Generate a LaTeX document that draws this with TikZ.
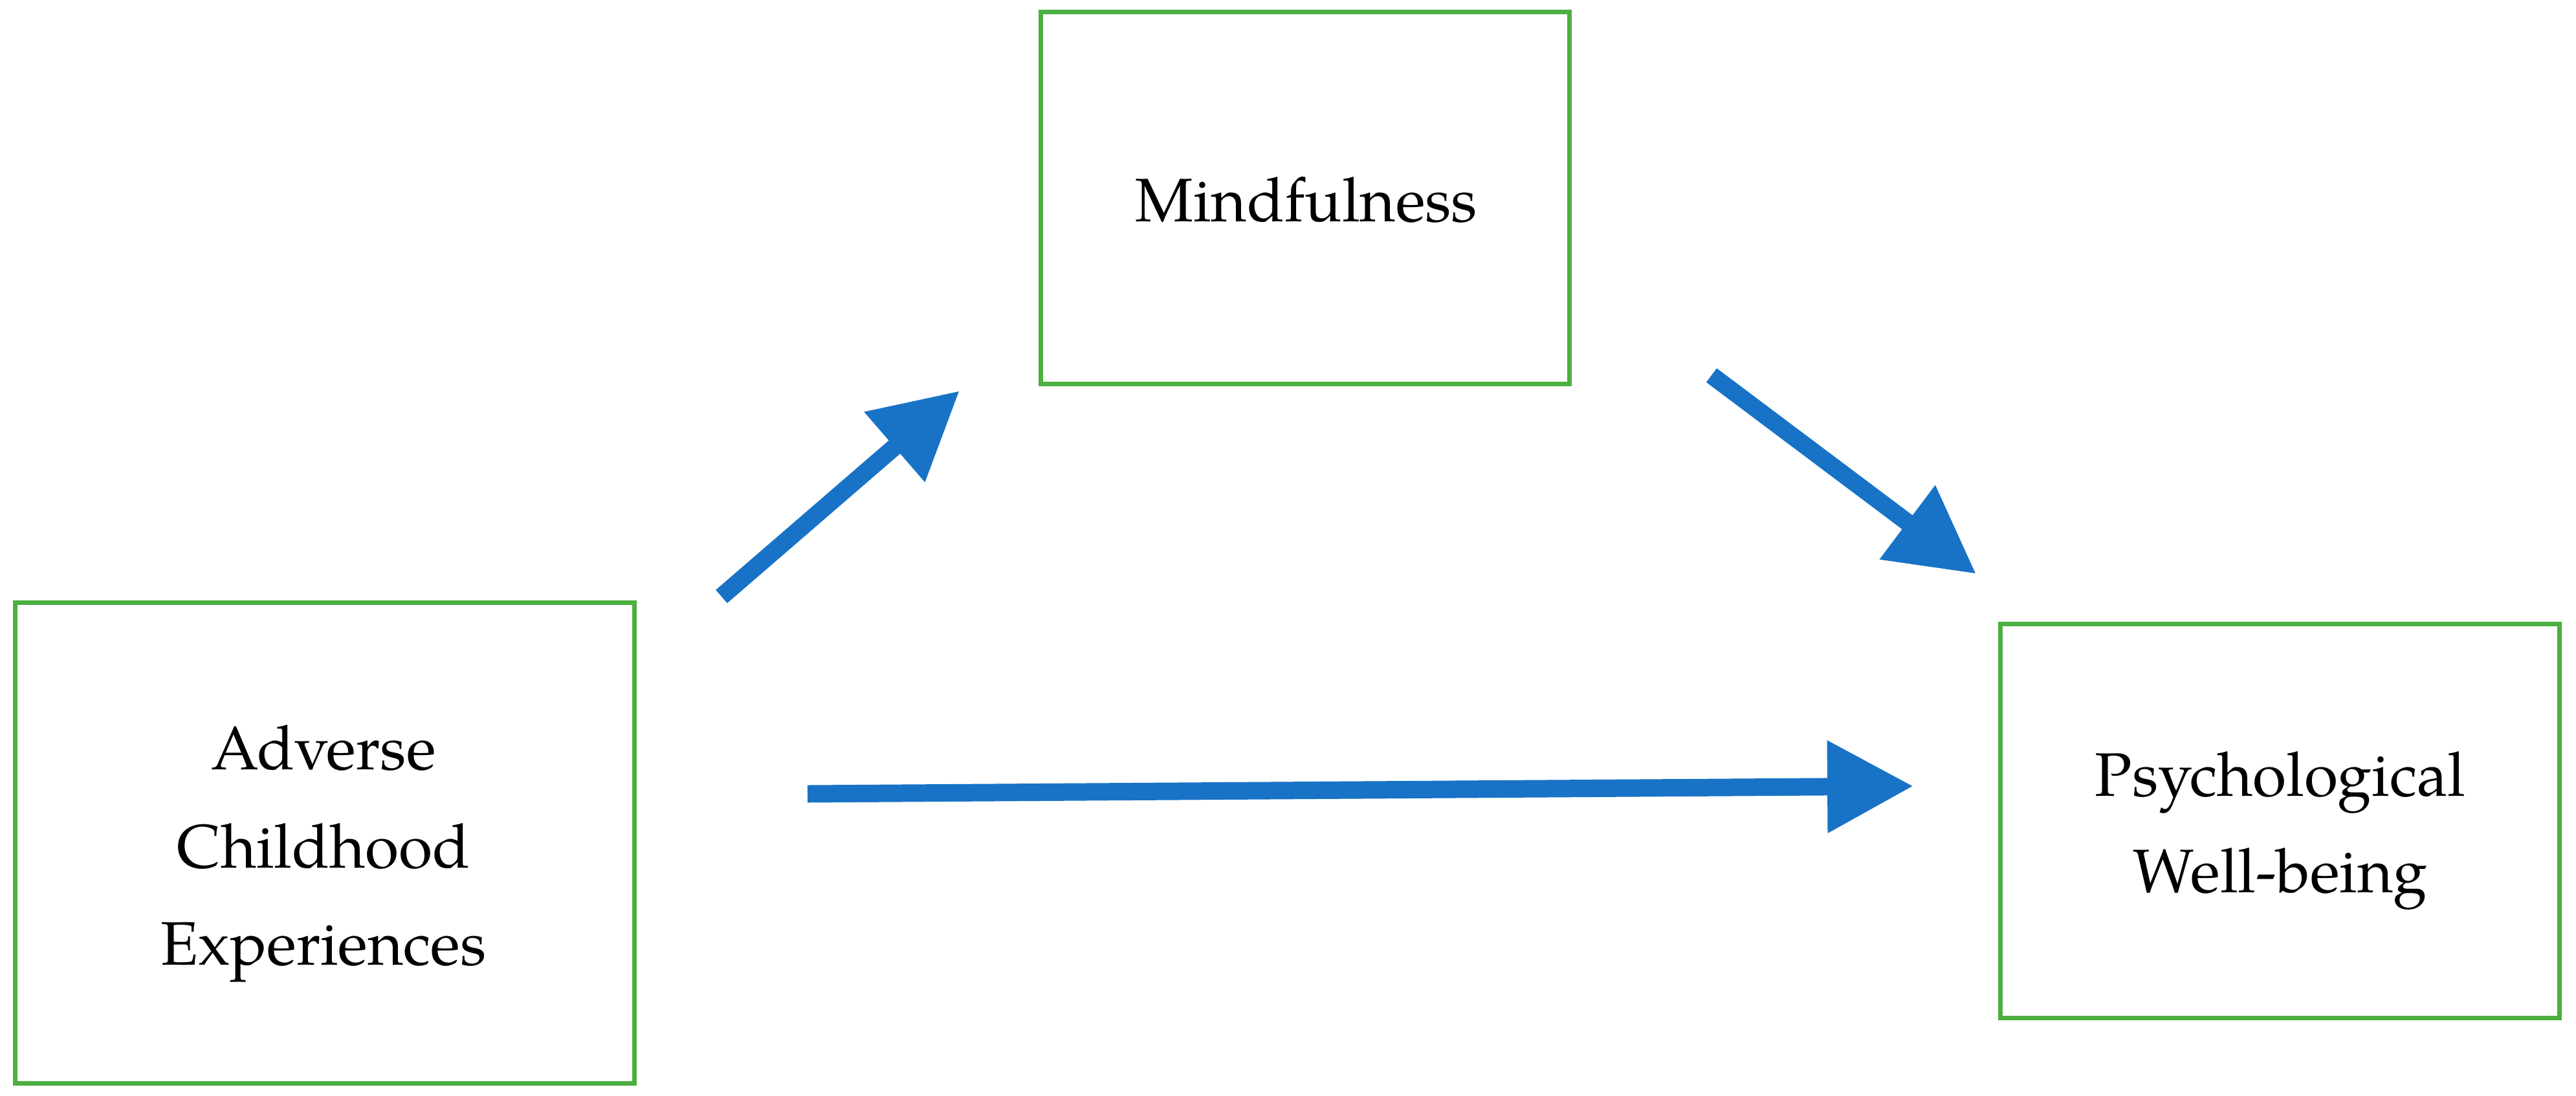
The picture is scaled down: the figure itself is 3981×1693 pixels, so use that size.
\documentclass[tikz,border=0pt]{standalone}
\usepackage{fontspec}
\IfFontExistsTF{TeX Gyre Pagella}{%
  \setmainfont{TeX Gyre Pagella}%
  \newcommand{\lblsize}{\fontsize{9.5}{15}\selectfont}}{%
  \setmainfont{Liberation Serif}%
  \newcommand{\lblsize}{\fontsize{10.4}{15}\selectfont}}
\usetikzlibrary{arrows.meta}
\definecolor{boxgreen}{RGB}{76,175,64}
\definecolor{arrowblue}{RGB}{24,115,198}
\begin{document}
\begin{tikzpicture}[x=0.1pt,y=-0.1pt,
  varbox/.style={draw=boxgreen,line width=0.7pt,rectangle,inner sep=0pt},
  lbl/.style={anchor=base,inner sep=0pt,font=\lblsize,text=black},
  patharrow/.style={draw=arrowblue,line width=2.7pt,-{Triangle[length=13.3pt,width=13.6pt]}}]
\useasboundingbox[fill=white] (0,0) rectangle (3981,1693);
% boxes
\node[varbox,minimum width=95.7pt,minimum height=74.3pt] (ace) at (502,1303) {};
\node[varbox,minimum width=81.7pt,minimum height=57.5pt] (mind) at (2016.6,306.2) {};
\node[varbox,minimum width=86.4pt,minimum height=60.9pt] (pwb) at (3523.3,1268.8) {};
% texts
\node[lbl] (mindt) at (2019,342) {Mindfulness};
\node[lbl] (ace1) at (500,1189) {Adverse};
\node[lbl] (ace2) at (500,1341) {Childhood};
\node[lbl] (ace3) at (500,1491) {Experiences};
\node[lbl] (pwb1) at (3524,1230) {Psychological};
\node[lbl] (pwb2) at (3524,1379) {Well-being};
% arrow ends
\coordinate (a1s) at (1115,922);
\coordinate (a1e) at (1483,604);
\coordinate (a2s) at (2645,580);
\coordinate (a2e) at (3054,887);
\coordinate (a3s) at (1248,1227);
\coordinate (a3e) at (2957,1215);
\draw[patharrow] (a1s) -- (a1e);
\draw[patharrow] (a2s) -- (a2e);
\draw[patharrow] (a3s) -- (a3e);
\end{tikzpicture}
\end{document}
